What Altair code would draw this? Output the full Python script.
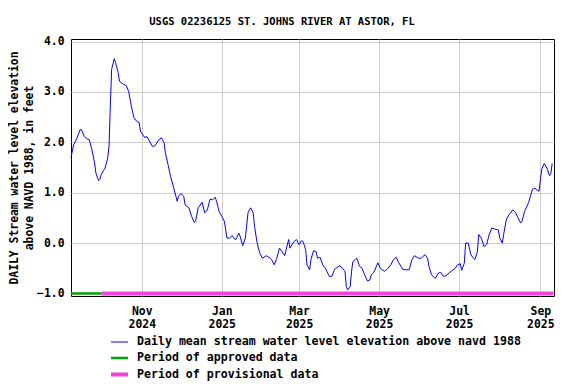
import altair as alt
import pandas as pd

# ---- data ----
RECORD_START = "2024-09-08"          # first day shown on the chart
day_offsets = [0, 2, 4, 7, 8, 10, 12, 14, 16, 18, 19, 21, 22, 23, 26, 28, 29, 30, 31, 33,
               34, 36, 37, 40, 42, 44, 46, 48, 50, 52, 53, 56, 58, 60, 62, 64, 67, 69, 71, 72,
               74, 76, 78, 80, 81, 82, 84, 86, 87, 90, 92, 94, 95, 97, 100, 102, 104, 106, 108, 110,
               111, 113, 115, 117, 119, 121, 123, 125, 126, 128, 129, 131, 133, 135, 137, 139, 140, 142, 144, 146,
               149, 152, 153, 155, 157, 159, 161, 163, 166, 167, 170, 172, 174, 176, 177, 179, 180, 182, 183, 185,
               187, 188, 190, 192, 194, 197, 199, 201, 205, 207, 209, 210, 211, 213, 214, 215, 217, 218, 220, 222,
               224, 226, 228, 229, 231, 233, 234, 236, 239, 241, 244, 246, 248, 250, 253, 256, 258, 260, 262, 265,
               267, 270, 272, 273, 275, 277, 278, 280, 282, 284, 286, 289, 291, 293, 295, 297, 298, 300, 301, 303,
               305, 307, 308, 310, 311, 313, 315, 317, 319, 321, 323, 326, 327, 329, 330, 332, 334, 337, 339, 341,
               343, 344, 346, 349, 350, 352, 354, 355, 357, 359, 361, 363, 365, 366, 367]
stage_ft = [1.70, 1.95, 2.05, 2.25, 2.25, 2.12, 2.07, 2.05, 1.85, 1.59, 1.39, 1.24, 1.26, 1.36, 1.49, 1.69, 1.92, 2.72, 3.45, 3.66,
            3.58, 3.38, 3.21, 3.15, 3.13, 3.01, 2.72, 2.49, 2.42, 2.39, 2.22, 2.10, 2.11, 2.02, 1.92, 1.93, 2.05, 2.09, 1.99, 1.79,
            1.56, 1.32, 1.13, 0.93, 0.83, 0.93, 0.98, 0.93, 0.76, 0.70, 0.53, 0.41, 0.43, 0.70, 0.81, 0.60, 0.66, 0.87, 0.86, 0.91,
            0.83, 0.63, 0.53, 0.43, 0.10, 0.10, 0.15, 0.07, 0.08, 0.20, 0.13, -0.05, 0.10, 0.60, 0.70, 0.60, 0.33, 0.00, -0.20, -0.30,
            -0.25, -0.30, -0.33, -0.43, -0.30, -0.10, -0.17, -0.25, 0.07, -0.10, 0.03, 0.07, -0.03, 0.05, 0.03, -0.13, -0.43, -0.53, -0.33, -0.15,
            -0.17, -0.30, -0.28, -0.43, -0.50, -0.66, -0.66, -0.52, -0.45, -0.50, -0.56, -0.86, -0.93, -0.86, -0.56, -0.37, -0.32, -0.30, -0.46, -0.50,
            -0.63, -0.75, -0.73, -0.63, -0.58, -0.46, -0.39, -0.50, -0.56, -0.52, -0.43, -0.33, -0.28, -0.39, -0.52, -0.53, -0.53, -0.33, -0.25, -0.30,
            -0.30, -0.23, -0.30, -0.46, -0.63, -0.68, -0.70, -0.60, -0.58, -0.66, -0.65, -0.58, -0.54, -0.50, -0.43, -0.41, -0.54, -0.40, 0.00, 0.00,
            -0.23, -0.30, -0.33, -0.17, 0.17, 0.10, -0.07, -0.03, 0.17, 0.30, 0.28, 0.26, 0.10, 0.00, 0.17, 0.46, 0.56, 0.66, 0.61, 0.50,
            0.40, 0.43, 0.63, 0.80, 0.89, 1.07, 1.09, 1.06, 1.03, 1.46, 1.58, 1.49, 1.34, 1.38, 1.58]

SERIES = ["Daily mean stream water level elevation above navd 1988",
          "Period of approved data",
          "Period of provisional data"]
COLORS = ["#0000ff", "#00a000", "#f542dc"]
WIDTHS = [1, 4, 4]

period_start = ["2024-09-08", "2024-10-01"]
period_end = ["2024-10-01", "2025-09-11"]
period_level = [-1.0, -1.0]

TITLE = "USGS 02236125 ST. JOHNS RIVER AT ASTOR, FL"
Y_TITLE = ["DAILY Stream water level elevation", "above NAVD 1988, in feet"]
MONO = "DejaVu Sans Mono"

# ---- tables ----
start = pd.Timestamp(RECORD_START)
dates = [(start + pd.Timedelta(days=d)).strftime("%Y-%m-%d") for d in day_offsets]
line_df = pd.DataFrame({"date": dates, "value": stage_ft, "series": SERIES[0]})
bar_df = pd.DataFrame({"date": period_start, "end": period_end,
                       "value": period_level, "series": SERIES[1:]})

x_scale = alt.Scale(type="utc", nice=False,
                    domain=[alt.DateTime(year=2024, month=9, date=8, utc=True),
                            alt.DateTime(year=2025, month=9, date=11, hours=10, utc=True)])
x_axis = alt.Axis(title=None,
                  values=[alt.DateTime(year=2024, month=11, date=1, utc=True),
                          alt.DateTime(year=2025, month=1, date=1, utc=True),
                          alt.DateTime(year=2025, month=3, date=1, utc=True),
                          alt.DateTime(year=2025, month=5, date=1, utc=True),
                          alt.DateTime(year=2025, month=7, date=1, utc=True),
                          alt.DateTime(year=2025, month=9, date=1, utc=True)],
                  labelExpr="[utcFormat(datum.value, '%b'), utcFormat(datum.value, '%Y')]",
                  labelLineHeight=13, labelPadding=9, labelFlush=False, labelOverlap=False)
y_scale = alt.Scale(domain=[-1.05, 4.05], nice=False, zero=False)
y_axis = alt.Axis(title=Y_TITLE, values=[-1, 0, 1, 2, 3, 4], format=".1f",
                  labelPadding=7, titlePadding=2, titleLineHeight=15, labelFlush=False)

legend = alt.Legend(title=None, orient="none", legendX=38, legendY=294,
                    symbolType="stroke", symbolSize=289, labelOffset=7,
                    labelLimit=0, rowPadding=-1, padding=0)
color = alt.Color("series:N", scale=alt.Scale(domain=SERIES, range=COLORS), legend=legend)
swidth = alt.StrokeWidth("series:N", scale=alt.Scale(domain=SERIES, range=WIDTHS), legend=legend)

line = alt.Chart(line_df).mark_line().encode(
    x=alt.X("date:T", scale=x_scale, axis=x_axis),
    y=alt.Y("value:Q", scale=y_scale, axis=y_axis),
    color=color, strokeWidth=swidth,
)
bars = alt.Chart(bar_df).mark_rule().encode(
    x=alt.X("date:T", scale=x_scale, axis=x_axis),
    x2="end:T",
    y=alt.Y("value:Q", scale=y_scale, axis=y_axis),
    color=color, strokeWidth=swidth,
)

chart = alt.layer(bars, line).properties(
    width=483, height=257,
    title=alt.TitleParams(TITLE, anchor="middle", frame="bounds", offset=8),
    autosize=alt.AutoSizeParams(type="none"),
    padding={"left": 63, "top": 31, "right": 14, "bottom": 88},
).configure_view(
    stroke="black", strokeWidth=1
).configure_axis(
    grid=True, gridColor="#cccccc", gridWidth=1, domain=False, ticks=False,
    labelFont=MONO, labelFontSize=11.4, labelFontWeight="bold", labelColor="black",
    titleFont=MONO, titleFontSize=11.4, titleFontWeight="bold", titleColor="black",
).configure_legend(
    labelFont=MONO, labelFontSize=11.6, labelFontWeight="bold", labelColor="black",
).configure_title(
    font=MONO, fontSize=10.5, fontWeight="bold", color="black",
)

chart.save("out.html", embed_options={"renderer": "svg", "actions": False})
